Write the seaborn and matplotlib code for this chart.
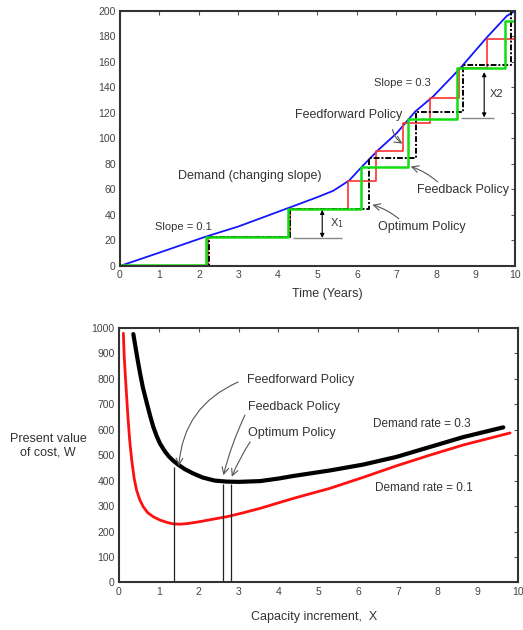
import numpy as np
import pandas as pd
import seaborn as sns
import matplotlib.pyplot as plt

# ----------- Data -----------

# top panel: demand and capacity expansion policies
demand_t = [0, 1, 2.15, 3, 4.22, 5.0, 5.4, 5.8, 6.16, 6.54, 7.0, 7.47, 7.93, 8.61, 9.28, 9.79, 10.0]
demand_y = [0, 10.5, 22.8, 31, 45, 54, 59, 67, 79, 91, 104, 121, 133, 155, 179, 196, 200]

feedforward_t = [0, 2.24, 4.3, 5.78, 6.48, 7.17, 7.85, 8.58, 9.3, 10.0]
feedforward_cap = [0, 23, 45, 67, 90, 112, 132, 155, 178, 200]

feedback_t = [0, 2.18, 4.25, 6.09, 7.3, 8.52, 9.75, 10.0]
feedback_cap = [1, 23, 45, 78, 115, 155, 192, 200]

optimum_t = [0, 2.26, 4.3, 6.31, 7.49, 8.69, 9.9, 10.0]
optimum_cap = [0, 23, 45, 85, 121, 158, 200, 200]

# bottom panel: present value of cost vs capacity increment
cost_x_03 = [0.36, 0.45, 0.53, 0.6, 0.7, 0.78, 0.86, 0.95, 1.03, 1.15, 1.25, 1.36, 1.49, 1.65,
             1.86, 2.1, 2.4, 2.7, 3.0, 3.54, 4.0, 4.37, 5.3, 6.13, 6.96, 7.8, 8.64, 9.64]
cost_03 = [975, 890, 820, 765, 703, 655, 611, 573, 545, 515, 495, 478, 462, 445,
           428, 412, 400, 396, 395, 398, 408, 418, 440, 463, 493, 532, 571, 609]

cost_x_01 = [0.11, 0.13, 0.16, 0.2, 0.23, 0.27, 0.32, 0.38, 0.44, 0.52, 0.61, 0.72, 0.86,
             1.03, 1.2, 1.36, 1.55, 1.7, 2.0, 2.2, 2.7, 3.1, 3.54, 4.37, 5.3, 6.13, 6.96,
             7.8, 8.64, 9.81]
cost_01 = [978, 890, 810, 710, 637, 555, 480, 410, 363, 325, 297, 274, 258,
           245, 236, 230, 229, 231, 238, 244, 258, 273, 291, 330, 370, 413, 458,
           500, 540, 587]

policy_x = [1.38, 2.62, 2.8]
policy_top = [455, 385, 385]

# ----------- Style -----------
sns.set_theme(style="white")
plt.rcParams['font.family'] = ['Liberation Sans', 'DejaVu Sans']

txt = '#333333'
arrow_gray = '#555555'

fig = plt.figure(figsize=(5.23, 6.30), dpi=100)
ax1 = fig.add_axes([0.2294, 0.5778, 0.7553, 0.4048])
ax2 = fig.add_axes([0.2275, 0.0754, 0.7623, 0.4044])


def style_axes(ax):
    for s in ax.spines.values():
        s.set_color('#333333')
        s.set_linewidth(1.5)
    ax.tick_params(direction='in', top=True, right=True, length=3, width=0.8,
                   labelsize=7.5, labelcolor='#444444', color='#555555', pad=3)


# ----------- Top panel -----------
sns.lineplot(x=demand_t, y=demand_y, ax=ax1, color='#1515ff', lw=1.3)
sns.lineplot(x=feedforward_t, y=feedforward_cap, ax=ax1, color='#ff3030', lw=1.2,
             drawstyle='steps-post')
sns.lineplot(x=optimum_t, y=optimum_cap, ax=ax1, color='black', lw=1.4,
             drawstyle='steps-post', linestyle=(0, (3, 1, 1, 1)))
sns.lineplot(x=feedback_t, y=feedback_cap, ax=ax1, color='#11dd11', lw=1.8,
             drawstyle='steps-post')

ax1.set_xlim(0, 10)
ax1.set_ylim(0, 200)
ax1.set_xticks(range(0, 11))
ax1.set_yticks(range(0, 201, 20))
style_axes(ax1)
ax1.set_xlabel('Time (Years)', fontsize=9, color=txt, va='top')
ax1.xaxis.set_label_coords(0.524, -0.086)

ax1.text(7.14, 143.5, 'Slope = 0.3', fontsize=8, color=txt, ha='center', va='center')
ax1.text(4.43, 118.6, 'Feedforward Policy', fontsize=9, color=txt, ha='left', va='center')
ax1.text(1.47, 70.6, 'Demand (changing slope)', fontsize=9, color=txt, ha='left', va='center')
ax1.text(7.52, 59.6, 'Feedback Policy', fontsize=9, color=txt, ha='left', va='center')
ax1.text(6.53, 30.4, 'Optimum Policy', fontsize=9, color=txt, ha='left', va='center')
ax1.text(0.89, 30.4, 'Slope = 0.1', fontsize=8, color=txt, ha='left', va='center')
ax1.text(5.32, 33.6, 'X$_1$', fontsize=8, color=txt, ha='left', va='center')
ax1.text(9.37, 135, 'X2', fontsize=8, color=txt, ha='left', va='center')

arr = dict(arrowstyle='->', color=arrow_gray, lw=0.8, shrinkA=0, shrinkB=0)
ax1.annotate('', xy=(7.15, 96), xytext=(6.9, 107),
             arrowprops=dict(arr, connectionstyle='arc3,rad=0.2'))
ax1.annotate('', xy=(7.36, 78), xytext=(8.04, 66),
             arrowprops=dict(arr, connectionstyle='arc3,rad=0.1'))
ax1.annotate('', xy=(6.39, 48), xytext=(7.06, 37),
             arrowprops=dict(arr, connectionstyle='arc3,rad=0.1'))

dbl = dict(arrowstyle='<|-|>', color='black', lw=0.8, mutation_scale=6, shrinkA=0, shrinkB=0)
ax1.hlines(22, 4.37, 5.63, color='#888888', lw=1)
ax1.annotate('', xy=(5.12, 44), xytext=(5.12, 22), arrowprops=dbl)
ax1.hlines(116, 8.63, 9.47, color='#888888', lw=1)
ax1.annotate('', xy=(9.22, 152), xytext=(9.22, 116.5), arrowprops=dbl)

# ----------- Bottom panel -----------
sns.lineplot(x=cost_x_01, y=cost_01, ax=ax2, color='#ff1010', lw=2, sort=False)
sns.lineplot(x=cost_x_03, y=cost_03, ax=ax2, color='black', lw=3, sort=False)
ax2.vlines(policy_x, 0, policy_top, color='#222222', lw=0.9)

ax2.set_xlim(0, 10)
ax2.set_ylim(0, 1000)
ax2.set_xticks(range(0, 11))
ax2.set_yticks(range(0, 1001, 100))
style_axes(ax2)
ax2.set_xlabel('Capacity increment,  X', fontsize=9, color=txt, va='top')
ax2.xaxis.set_label_coords(0.489, -0.112)
ax2.set_ylabel('Present value\nof cost, W', fontsize=9, color=txt, rotation=0,
               ha='center', va='center', multialignment='center')
ax2.yaxis.set_label_coords(-0.178, 0.536)

ax2.text(3.21, 794, 'Feedforward Policy', fontsize=9, color=txt, ha='left', va='center')
ax2.text(3.24, 688, 'Feedback Policy', fontsize=9, color=txt, ha='left', va='center')
ax2.text(3.24, 586, 'Optimum Policy', fontsize=9, color=txt, ha='left', va='center')
ax2.text(6.37, 622, 'Demand rate = 0.3', fontsize=8.5, color=txt, ha='left', va='center')
ax2.text(6.42, 371, 'Demand rate = 0.1', fontsize=8.5, color=txt, ha='left', va='center')

ax2.annotate('', xy=(1.5, 457), xytext=(2.99, 787),
             arrowprops=dict(arr, connectionstyle='arc3,rad=0.3'))
ax2.annotate('', xy=(2.62, 421), xytext=(3.16, 657),
             arrowprops=dict(arr, connectionstyle='arc3,rad=0.05'))
ax2.annotate('', xy=(2.83, 415), xytext=(3.29, 552),
             arrowprops=dict(arr, connectionstyle='arc3,rad=0.05'))

fig.savefig('out.png', dpi=100)
